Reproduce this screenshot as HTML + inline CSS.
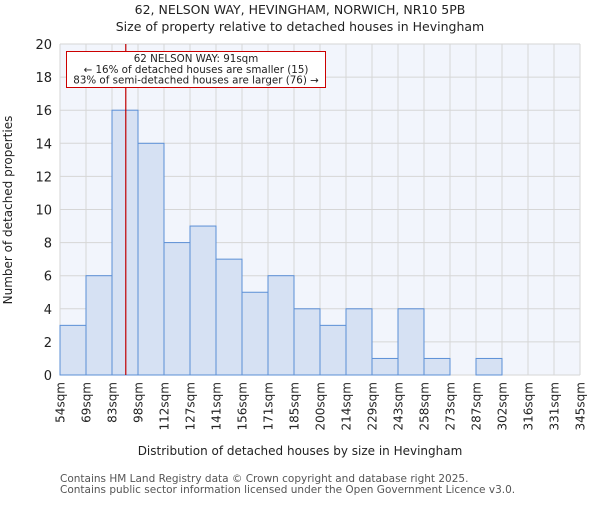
<!DOCTYPE html>
<html><head><meta charset="utf-8"><style>
body{margin:0;background:#fff;}
svg text{font-family:"DejaVu Sans","Liberation Sans",sans-serif;fill:#222;}
</style></head><body>
<svg id="c" width="600" height="500" viewBox="0 0 600 500" xmlns="http://www.w3.org/2000/svg">
<text x="300" y="14" text-anchor="middle" font-size="12.5">62, NELSON WAY, HEVINGHAM, NORWICH, NR10 5PB</text>
<text x="300" y="31" text-anchor="middle" font-size="12.5">Size of property relative to detached houses in Hevingham</text>
<rect x="60" y="44" width="520" height="331" fill="#f2f5fc"/>
<g id="grid"></g><g id="bars"></g><g id="axes"></g>
<text x="300" y="455" text-anchor="middle" font-size="12">Distribution of detached houses by size in Hevingham</text>
<text transform="translate(12,210) rotate(-90)" text-anchor="middle" font-size="12">Number of detached properties</text>
<text x="60" y="482" font-size="10.5" style="fill:#555">Contains HM Land Registry data © Crown copyright and database right 2025.</text>
<text x="60" y="493" font-size="10.5" style="fill:#555">Contains public sector information licensed under the Open Government Licence v3.0.</text>
</svg>
<script>
const categories=["54sqm","69sqm","83sqm","98sqm","112sqm","127sqm","141sqm","156sqm","171sqm","185sqm","200sqm","214sqm","229sqm","243sqm","258sqm","273sqm","287sqm","302sqm","316sqm","331sqm","345sqm"];
const counts=[3,6,16,14,8,9,7,5,6,4,3,4,1,4,1,0,1,0,0,0];
const yTicks=[0,2,4,6,8,10,12,14,16,18,20];
const propertyPos=2.53;
const NS="http://www.w3.org/2000/svg";
const X0=60,X1=580,Y0=375,Y1=44,YMAX=20;
const n=counts.length;
const xs=i=>X0+i*(X1-X0)/n;
const ys=v=>Y0-v*(Y0-Y1)/YMAX;
function mk(t,a,p){const e=document.createElementNS(NS,t);for(const k in a)e.setAttribute(k,a[k]);p.appendChild(e);return e;}
const grid=document.getElementById('grid'),bars=document.getElementById('bars'),axes=document.getElementById('axes');
yTicks.forEach(v=>{
 const l=mk('line',{x1:X0,x2:X1,y1:ys(v),y2:ys(v),stroke:'#d6d6d6','stroke-width':1},grid);
 
 
 const t=mk('text',{x:X0-8,y:ys(v)+5,'text-anchor':'end','font-size':13},axes);
 t.textContent=v;
 
 
});
categories.forEach((c,i)=>{
 const l=mk('line',{x1:xs(i),x2:xs(i),y1:Y1,y2:Y0,stroke:'#d6d6d6','stroke-width':1},grid);
 
 
 const t=mk('text',{transform:`translate(${xs(i)+4.5},${Y0+7}) rotate(-90)`,'text-anchor':'end','font-size':12},axes);
 t.textContent=c;
 
 
});
counts.forEach((v,i)=>{
 if(v<=0)return;
 const r=mk('rect',{x:xs(i),y:ys(v),width:xs(i+1)-xs(i),height:Y0-ys(v),fill:'#d6e1f3',stroke:'#5b8fd6','stroke-width':1},bars);
 
 
});
const px=xs(0)+propertyPos*(xs(1)-xs(0));
const pl=mk('line',{x1:px,x2:px,y1:Y1,y2:Y0,stroke:'#c00000','stroke-width':1.2},axes);


const box=mk('rect',{x:66.5,y:51.5,width:259,height:36,fill:'#fff',stroke:'#cc0000','stroke-width':1},axes);


["62 NELSON WAY: 91sqm","← 16% of detached houses are smaller (15)","83% of semi-detached houses are larger (76) →"].forEach((s,k)=>{
 const t=mk('text',{x:196,y:62+k*10.8,'text-anchor':'middle','font-size':10.3},axes);
 t.textContent=s;
 
 
});
</script>
</body></html>
